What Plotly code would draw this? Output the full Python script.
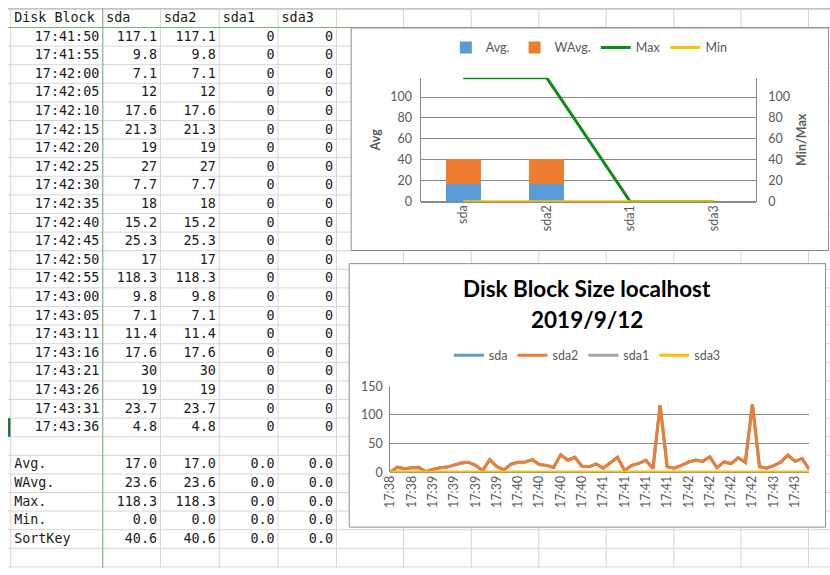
import plotly.graph_objects as go

W, H = 830, 575

# ---------------- spreadsheet data ----------------
header = ["Disk Block", "sda", "sda2", "sda1", "sda3"]
times = ["17:41:50", "17:41:55", "17:42:00", "17:42:05", "17:42:10", "17:42:15",
         "17:42:20", "17:42:25", "17:42:30", "17:42:35", "17:42:40", "17:42:45",
         "17:42:50", "17:42:55", "17:43:00", "17:43:05", "17:43:11", "17:43:16",
         "17:43:21", "17:43:26", "17:43:31", "17:43:36"]
sda = [117.1, 9.8, 7.1, 12, 17.6, 21.3, 19, 27, 7.7, 18, 15.2, 25.3,
       17, 118.3, 9.8, 7.1, 11.4, 17.6, 30, 19, 23.7, 4.8]
sda2 = [117.1, 9.8, 7.1, 12, 17.6, 21.3, 19, 27, 7.7, 18, 15.2, 25.3,
        17, 118.3, 9.8, 7.1, 11.4, 17.6, 30, 19, 23.7, 4.8]
sda1 = [0, 0, 0, 0, 0, 0, 0, 0, 0, 0, 0, 0, 0, 0, 0, 0, 0, 0, 0, 0, 0, 0]
sda3 = [0, 0, 0, 0, 0, 0, 0, 0, 0, 0, 0, 0, 0, 0, 0, 0, 0, 0, 0, 0, 0, 0]

stat_labels = ["Avg.", "WAvg.", "Max.", "Min.", "SortKey"]
stat_sda = [17.0, 23.6, 118.3, 0.0, 40.6]
stat_sda2 = [17.0, 23.6, 118.3, 0.0, 40.6]
stat_sda1 = [0.0, 0.0, 0.0, 0.0, 0.0]
stat_sda3 = [0.0, 0.0, 0.0, 0.0, 0.0]

# ---------------- chart 1 (summary) ----------------
devices = ["sda", "sda2", "sda1", "sda3"]
dev_avg = [17.0, 17.0, 0.0, 0.0]
dev_wavg = [23.6, 23.6, 0.0, 0.0]
dev_max = [118.3, 118.3, 0.0, 0.0]
dev_min = [0.0, 0.0, 0.0, 0.0]

# ---------------- chart 2 (time series) ----------------
early_times = ["17:38:40", "17:38:45", "17:38:50", "17:38:55", "17:39:00", "17:39:05",
               "17:39:10", "17:39:15", "17:39:20", "17:39:25", "17:39:30", "17:39:35",
               "17:39:40", "17:39:45", "17:39:50", "17:39:55", "17:40:00", "17:40:05",
               "17:40:10", "17:40:15", "17:40:20", "17:40:25", "17:40:30", "17:40:35",
               "17:40:40", "17:40:45", "17:40:50", "17:40:55", "17:41:00", "17:41:05",
               "17:41:10", "17:41:15", "17:41:20", "17:41:25", "17:41:30", "17:41:35",
               "17:41:40", "17:41:45"]
early_sda = [0, 9, 6, 8, 8.5, 1, 5, 8, 9, 13, 16, 17.5, 12, 3, 22, 10, 4, 14, 17.5,
             18, 22, 13.5, 12, 8.5, 30.5, 21, 26, 10.5, 9.5, 14.5, 7, 16.5, 26, 3,
             12, 15.5, 21, 6.5]
early_sda2 = [0, 9, 6, 8, 8.5, 1, 5, 8, 9, 13, 16, 17.5, 12, 3, 22, 10, 4, 14, 17.5,
              18, 22, 13.5, 12, 8.5, 30.5, 21, 26, 10.5, 9.5, 14.5, 7, 16.5, 26, 3,
              12, 15.5, 21, 6.5]
early_sda1 = [0, 0, 0, 0, 0, 0, 0, 0, 0, 0, 0, 0, 0, 0, 0, 0, 0, 0, 0,
              0, 0, 0, 0, 0, 0, 0, 0, 0, 0, 0, 0, 0, 0, 0, 0, 0, 0, 0]
early_sda3 = [0, 0, 0, 0, 0, 0, 0, 0, 0, 0, 0, 0, 0, 0, 0, 0, 0, 0, 0,
              0, 0, 0, 0, 0, 0, 0, 0, 0, 0, 0, 0, 0, 0, 0, 0, 0, 0, 0]

line_times = early_times + times
line_series = {
    "sda": early_sda + sda,
    "sda2": early_sda2 + sda2,
    "sda1": early_sda1 + sda1,
    "sda3": early_sda3 + sda3,
}
line_colors = {"sda": "#5B9BD5", "sda2": "#ED7D31", "sda1": "#A5A5A5", "sda3": "#FFC000"}
tick_times = line_times[::3]
tick_text = [t[:5] for t in tick_times]

# ---------------- geometry helpers (page pixels -> paper) ----------------
def px(x):
    return x / W


def py(y):
    return 1 - y / H


col_edges = [2.7, 95.7, 154, 213.3, 272.7, 331.7, 399.3, 467.7, 536, 604, 672.3, 740, 808.3]
row_top, row_h, n_rows = 20, 19.1, 29

GRID = "#d6d6d6"
FROZEN = "#7cb47c"
AXIS = "#8a8a8a"
TXT = "#595959"
FONT = "Lato"

shapes = []
# spreadsheet grid
for xe in col_edges:
    shapes.append(dict(type="line", xref="paper", yref="paper", x0=px(xe), x1=px(xe),
                       y0=0, y1=1, line=dict(color=GRID, width=1), layer="below"))
for k in range(1, n_rows + 1):
    ye = row_top + row_h * k
    shapes.append(dict(type="line", xref="paper", yref="paper", x0=0, x1=1,
                       y0=py(ye), y1=py(ye), line=dict(color=GRID, width=1), layer="below"))
shapes.append(dict(type="rect", xref="paper", yref="paper", x0=0, x1=1, y0=py(1.8), y1=1,
                   line=dict(width=0), fillcolor="#c6c6c6", layer="below"))
shapes.append(dict(type="line", xref="paper", yref="paper", x0=px(col_edges[1]), x1=px(col_edges[1]),
                   y0=0, y1=1, line=dict(color=FROZEN, width=1), layer="below"))
shapes.append(dict(type="line", xref="paper", yref="paper", x0=0, x1=1, y0=py(row_top), y1=py(row_top),
                   line=dict(color=FROZEN, width=1), layer="below"))
shapes.append(dict(type="rect", xref="paper", yref="paper", x0=0, x1=px(2.5),
                   y0=py(row_top + row_h * 22), y1=py(row_top + row_h * 21),
                   line=dict(width=0), fillcolor="#217346", layer="below"))
# chart boxes
shapes.append(dict(type="rect", xref="paper", yref="paper", x0=px(346.5), x1=px(828.5),
                   y0=py(249), y1=py(20.5), line=dict(color="#8c8c8c", width=1),
                   fillcolor="white", layer="below"))
shapes.append(dict(type="rect", xref="paper", yref="paper", x0=px(344.5), x1=px(825.5),
                   y0=py(533), y1=py(262.5), line=dict(color="#8c8c8c", width=1),
                   fillcolor="white", layer="below"))

# ---------------- table text ----------------
tx, ty, tt, tp = [], [], [], []


def cell(col, row, text, align):
    yc = 11 if row is None else row_top + row_h * row + row_h / 2 + 0.5
    if align == "left":
        tx.append(col_edges[col] + 3.5)
        tp.append("middle right")
    else:
        tx.append(col_edges[col + 1] - 3.5)
        tp.append("middle left")
    ty.append(yc)
    tt.append(text)


for c, h in enumerate(header):
    cell(c, None, h, "left")
data_cols = [sda, sda2, sda1, sda3]
for r, t in enumerate(times):
    cell(0, r, t, "right")
    for c, col in enumerate(data_cols):
        cell(c + 1, r, f"{col[r]:g}", "right")
stat_cols = [stat_sda, stat_sda2, stat_sda1, stat_sda3]
for i, lab in enumerate(stat_labels):
    r = 23 + i
    cell(0, r, lab, "left")
    for c, col in enumerate(stat_cols):
        cell(c + 1, r, f"{col[i]:.1f}", "right")

fig = go.Figure()

# chart 1: stacked bars + lines
fig.add_trace(go.Bar(x=devices, y=dev_avg, name="Avg.", marker=dict(color="#5B9BD5", line=dict(width=0)),
                     width=0.415, xaxis="x", yaxis="y", legend="legend"))
fig.add_trace(go.Bar(x=devices, y=dev_wavg, name="WAvg.", marker=dict(color="#ED7D31", line=dict(width=0)),
                     width=0.415, xaxis="x", yaxis="y", legend="legend"))
fig.add_trace(go.Scatter(x=devices, y=dev_max, name="Max", mode="lines",
                         line=dict(color="#138A13", width=3), xaxis="x", yaxis="y2", legend="legend"))
fig.add_trace(go.Scatter(x=devices, y=dev_min, name="Min", mode="lines",
                         line=dict(color="#FFC000", width=3), xaxis="x", yaxis="y2", legend="legend"))

# chart 2: time series
for name, vals in line_series.items():
    fig.add_trace(go.Scatter(x=line_times, y=vals, name=name, mode="lines",
                             line=dict(color=line_colors[name], width=3),
                             xaxis="x2", yaxis="y3", legend="legend2"))

# table text (overlay axes measured in page pixels)
fig.add_trace(go.Scatter(x=tx, y=ty, text=tt, mode="text", textposition=tp,
                         textfont=dict(family="DejaVu Sans Mono", size=13.4, color="#1a1a1a"),
                         xaxis="x3", yaxis="y4", showlegend=False, hoverinfo="skip",
                         cliponaxis=False))

tickfont = dict(family=FONT, size=12.5, color=TXT)
fig.update_layout(
    width=W, height=H, margin=dict(l=0, r=0, t=0, b=0),
    paper_bgcolor="white", plot_bgcolor="rgba(0,0,0,0)",
    barmode="stack", showlegend=True, shapes=shapes,
    font=dict(family=FONT, color=TXT),
    xaxis=dict(domain=[px(417.5), px(755)], anchor="y", type="category",
               tickangle=-90, tickfont=tickfont, showgrid=False, ticks="",
               showline=False, range=[-0.5, 3.5]),
    yaxis=dict(domain=[py(199), py(71.7)], anchor="x", range=[0, 118.3], dtick=20,
               tickfont=tickfont, gridcolor=AXIS, gridwidth=1, showline=True,
               linecolor=AXIS, zeroline=True, zerolinecolor=AXIS, ticks="",
               ticklabelstandoff=6,
               title=dict(text="<b>Avg</b>", font=dict(family=FONT, size=12.5, color=TXT), standoff=6)),
    yaxis2=dict(overlaying="y", side="right", anchor="x", range=[0, 118.3], dtick=20,
                tickfont=tickfont, showgrid=False, showline=True, linecolor=AXIS,
                zeroline=False, ticks="", ticklabelstandoff=9,
                title=dict(text="<b>Min/Max</b>", font=dict(family=FONT, size=12.5, color=TXT), standoff=8)),
    xaxis2=dict(domain=[px(386), px(809)], anchor="y3", type="category",
                categoryorder="array", categoryarray=line_times,
                tickvals=tick_times, ticktext=tick_text, tickangle=-90,
                tickfont=tickfont, showgrid=False, ticks="", showline=False,
                range=[0, 59]),
    yaxis3=dict(domain=[py(476.7), py(388.3)], anchor="x2", range=[0, 150], dtick=50,
                tickfont=tickfont, gridcolor=AXIS, showline=True, linecolor=AXIS,
                zeroline=True, zerolinecolor=AXIS, ticks="", ticklabelstandoff=4),
    xaxis3=dict(domain=[0, 1], anchor="y4", range=[0, W], visible=False, fixedrange=True),
    yaxis4=dict(domain=[0, 1], anchor="x3", range=[H, 0], visible=False, fixedrange=True),
    legend=dict(orientation="h", x=px(587), y=py(41), xanchor="center", yanchor="middle",
                font=dict(family=FONT, size=12.5, color=TXT), bgcolor="rgba(0,0,0,0)",
                traceorder="normal"),
    legend2=dict(orientation="h", x=px(585), y=py(357), xanchor="center", yanchor="middle",
                 font=dict(family=FONT, size=12.5, color=TXT), bgcolor="rgba(0,0,0,0)",
                 traceorder="normal"),
    annotations=[
        dict(text="<b>Disk Block Size localhost</b>", x=px(585), y=py(288), xref="paper", yref="paper",
             showarrow=False, xanchor="center", yanchor="middle",
             font=dict(family=FONT, size=22.5, color="#000000")),
        dict(text="<b>2019/9/12</b>", x=px(585), y=py(320), xref="paper", yref="paper",
             showarrow=False, xanchor="center", yanchor="middle",
             font=dict(family=FONT, size=22.5, color="#000000")),
    ],
)

fig.write_html("out.html", config={"displayModeBar": False})
